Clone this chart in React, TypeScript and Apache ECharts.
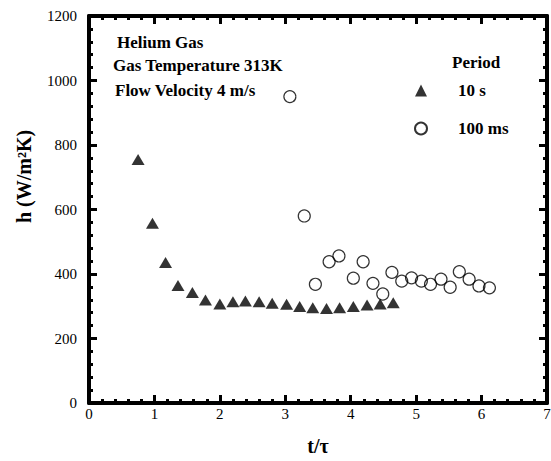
import React, { useEffect, useRef } from "react";
import * as echarts from "echarts";

// Period 10 s (filled triangles)
const t10s = [0.75, 0.97, 1.17, 1.36, 1.58, 1.78, 2.0, 2.2, 2.39, 2.6, 2.8, 3.02, 3.22, 3.42, 3.63, 3.83, 4.04, 4.25, 4.45, 4.65];
const h10s = [755, 557, 436, 364, 343, 319, 307, 314, 316, 314, 309, 306, 299, 295, 293, 295, 299, 304, 307, 311];

// Period 100 ms (open circles)
const t100ms = [3.07, 3.29, 3.46, 3.67, 3.82, 4.04, 4.19, 4.34, 4.49, 4.63, 4.78, 4.93, 5.08, 5.22, 5.38, 5.52, 5.66, 5.81, 5.96, 6.12];
const h100ms = [950, 580, 368, 438, 456, 387, 438, 371, 338, 405, 378, 388, 378, 368, 384, 359, 407, 384, 363, 357];

const seriesNames = ["10 s", "100 ms"];
const notes = ["Helium Gas", "Gas Temperature 313K", "Flow Velocity 4 m/s"];
const legendTitle = "Period";

const xTitle = "t/τ";
const yTitle = "h (W/m²K)";

const SERIF = "Liberation Serif";

export default function App() {
  const ref = useRef<HTMLDivElement>(null);
  useEffect(() => {
    if (!ref.current) return;
    const chart = echarts.init(ref.current, null, { renderer: "svg" });
    const axisLine = { show: true, onZero: false, lineStyle: { color: "#000", width: 4 } };
    const tick = { show: true, inside: true, length: 8, lineStyle: { color: "#000", width: 3 } };
    const minor = { show: true, splitNumber: 5, length: 4, lineStyle: { color: "#000", width: 3 } };
    const label = {
      color: "#000", fontFamily: SERIF, fontSize: 15,
      formatter: (v: number) => String(v),
    };
    const toPairs = (xs: number[], ys: number[]) => xs.map((x, i) => [x, ys[i]]);
    chart.setOption({
      animation: false,
      backgroundColor: "#fff",
      textStyle: { fontFamily: SERIF },
      grid: { left: 89, right: 4, top: 16, bottom: 58, containLabel: false, outerBoundsMode: "none" },
      xAxis: [
        {
          type: "value", min: 0, max: 7, interval: 1, position: "bottom",
          axisLine, axisTick: tick, minorTick: minor, splitLine: { show: false },
          axisLabel: { ...label, margin: 3 },
          name: xTitle, nameLocation: "middle", nameGap: 33,
          nameTextStyle: { color: "#000", fontFamily: SERIF, fontSize: 20, fontWeight: "bold" },
        },
        {
          type: "value", min: 0, max: 7, interval: 1, position: "top",
          axisLine, axisTick: tick, minorTick: minor, splitLine: { show: false },
          axisLabel: { show: false },
        },
      ],
      yAxis: [
        {
          type: "value", min: 0, max: 1200, interval: 200, position: "left",
          axisLine, axisTick: tick, minorTick: minor, splitLine: { show: false },
          axisLabel: { ...label, margin: 12 },
          name: yTitle, nameLocation: "middle", nameGap: 55,
          nameTextStyle: { color: "#000", fontFamily: SERIF, fontSize: 20, fontWeight: "bold", padding: [0, 0, 0, 66] },
        },
        {
          type: "value", min: 0, max: 1200, interval: 200, position: "right",
          axisLine, axisTick: tick, minorTick: minor, splitLine: { show: false },
          axisLabel: { show: false },
        },
      ],
      legend: {
        data: seriesNames,
        orient: "vertical",
        left: 414,
        top: 82,
        padding: 0,
        itemWidth: 12,
        itemHeight: 12,
        itemGap: 21,
        textStyle: { color: "#000", fontFamily: SERIF, fontSize: 17, fontWeight: "bold", padding: [0, 0, 0, 26] },
      },
      graphic: [
        ...notes.map((t, i) => ({
          type: "text",
          x: [117, 113, 115][i],
          y: [42, 65, 90][i],
          style: { text: t, font: `bold 17px '${SERIF}'`, fill: "#000", align: "left", verticalAlign: "middle" },
        })),
        {
          type: "text", x: 452, y: 62,
          style: { text: legendTitle, font: `bold 17px '${SERIF}'`, fill: "#000", align: "left", verticalAlign: "middle" },
        },
      ],
      series: [
        {
          name: seriesNames[0], type: "scatter", symbol: "triangle", symbolSize: [13, 11],
          itemStyle: { color: "#000" }, data: toPairs(t10s, h10s),
        },
        {
          name: seriesNames[1], type: "scatter", symbol: "circle", symbolSize: 12,
          itemStyle: { color: "rgba(0,0,0,0)", borderColor: "#000", borderWidth: 1.2 },
          data: toPairs(t100ms, h100ms),
        },
      ],
    });
    return () => chart.dispose();
  }, []);
  return <div ref={ref} style={{ width: 551, height: 461, position: "absolute", left: 0, top: 0 }} />;
}
